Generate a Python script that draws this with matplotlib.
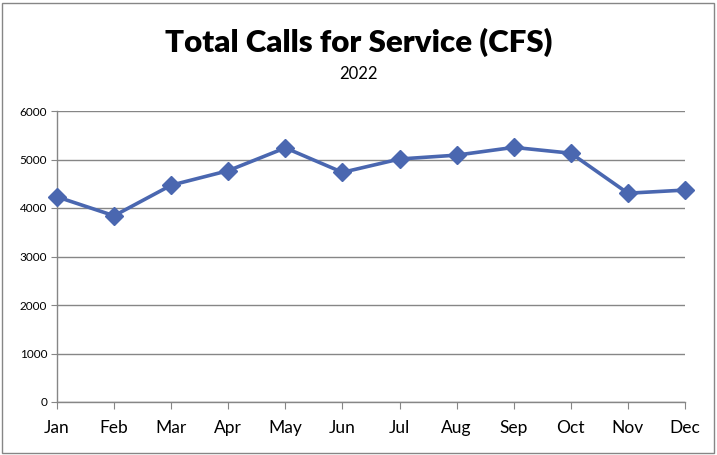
import matplotlib
import matplotlib.pyplot as plt
from matplotlib.patches import Rectangle

matplotlib.use("Agg")

months = ["Jan", "Feb", "Mar", "Apr", "May", "Jun",
          "Jul", "Aug", "Sep", "Oct", "Nov", "Dec"]
calls = [4230, 3840, 4470, 4770, 5240, 4735,
         5010, 5090, 5250, 5130, 4305, 4370]
y_ticks = [0, 1000, 2000, 3000, 4000, 5000, 6000]

plt.rcParams["font.family"] = ["Lato", "DejaVu Sans"]

fig = plt.figure(figsize=(7.17, 4.55), dpi=100)
ax = fig.add_axes([57 / 717, 1 - 402 / 455, (685 - 57) / 717, (402 - 111) / 455])

x = list(range(len(months)))
ax.plot(x, calls, color="#4A67B0", linewidth=2.6, marker="D", markersize=9,
        markeredgecolor="#4A67B0", markerfacecolor="#4A67B0", zorder=3, clip_on=False)

ax.set_xlim(0, len(months) - 1)
ax.set_ylim(0, 6000)
ax.set_yticks(y_ticks)
ax.set_xticks(x)
ax.set_xticklabels(months, fontsize=12.5)
ax.tick_params(axis="y", labelsize=8.5, length=4, color="#868686", pad=3)
ax.tick_params(axis="x", length=5, color="#868686", pad=8)
ax.grid(axis="y", color="#868686", linewidth=1.0)
ax.set_axisbelow(True)

for side in ["top", "right"]:
    ax.spines[side].set_visible(False)
for side in ["left", "bottom"]:
    ax.spines[side].set_color("#868686")
    ax.spines[side].set_linewidth(1.0)

fig.text(0.5, 1 - 42 / 455, "Total Calls for Service (CFS)", ha="center", va="center",
         fontsize=22.5, fontweight="heavy")
fig.text(0.5, 1 - 74 / 455, "2022", ha="center", va="center", fontsize=12)

# chart border
fig.patches.append(Rectangle((2 / 717, 2 / 455), 712 / 717, 450 / 455, transform=fig.transFigure,
                             fill=False, edgecolor="#868686", linewidth=1.0))

fig.savefig("out.png", dpi=100)
